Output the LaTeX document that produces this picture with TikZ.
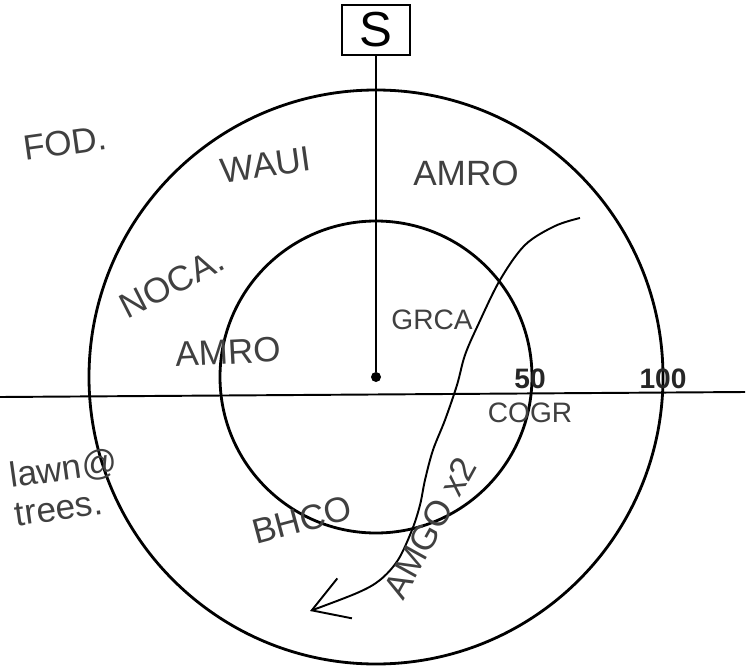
\documentclass[tikz,border=0pt]{standalone}
\usepackage{fontspec}
\setmainfont{Liberation Sans}
\usetikzlibrary{arrows.meta}
\usetikzlibrary{positioning}

\begin{document}
\begin{tikzpicture}[
  x=0.02cm, y=-0.02cm,
  ring/.style={draw,line width=1.6pt},
  bird/.style={text=black!75,font=\fontsize{20}{22}\selectfont,inner sep=0pt},
  small bird/.style={bird,font=\fontsize{16}{18}\selectfont},
  dist/.style={text=black!85,font=\bfseries\fontsize{16}{18}\selectfont,inner sep=0pt},
  track/.style={draw,line width=1.1pt,-{Straight Barb[length=7mm,width=8.5mm]}}
]
\useasboundingbox (0,0) rectangle (751,666);

\node[circle,fill,inner sep=0pt,minimum size=0.2cm] (centre) at (376,377) {};
\node[draw,line width=1pt,minimum width=1.36cm,minimum height=1cm,
      font=\fontsize{28}{30}\selectfont] (sbox) at (376,30) {S};

\draw[ring] (centre) circle[radius=156];
\draw[ring] (centre) circle[radius=287];

\coordinate (west) at (0,397);
\coordinate (east) at (745,392);
\draw[line width=1.1pt] (west) -- (east);
\draw[line width=1.1pt] (sbox) -- (centre);

\node[dist] (d50) at (530,379) {50};
\node[dist] (d100) at (663,379) {100};

\draw[track] plot[smooth,tension=0.55] coordinates {
  (580,218) (555,226) (525,245) (500,280) (478,325) (465,355) (457,385)
  (445,420) (433,450) (425,480) (420,505) (412,530) (398,560) (380,580)
  (357,593) (310,611)};

\node[bird,rotate=8] (fod) at (65,143) {FOD.};
\node[bird,rotate=8] (waui) at (266,165) {WAUI};
\node[bird] (amro1) at (466,173) {AMRO};
\node[bird,rotate=27] (noca) at (172,283) {NOCA.};
\node[bird,rotate=3] (amro2) at (228,352) {AMRO};
\node[small bird] (grca) at (432,320) {GRCA};
\node[small bird] (cogr) at (530,413) {COGR};
\node[bird,rotate=8,align=left] (lawn) at (66,487) {lawn@\\trees.};
\node[bird,rotate=15] (bhco) at (302,520) {BHCO};
\node[bird,rotate=61] (amgo) at (430,528) {AMGO x2};
\end{tikzpicture}
\end{document}
